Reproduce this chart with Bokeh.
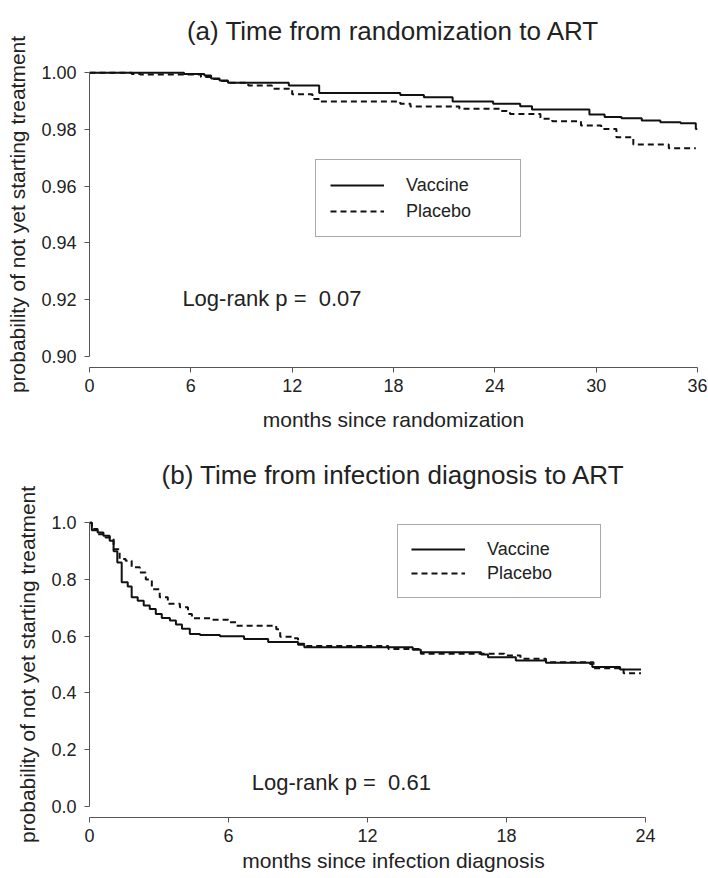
from bokeh.plotting import figure
from bokeh.layouts import column
from bokeh.models import Legend, LegendItem, Label, FixedTicker, Range1d
from bokeh.embed import file_html
from bokeh.resources import INLINE

FONT = "Liberation Sans"
TXT = "#222222"
AX = "#555555"

# ---------------- data: panel (a) ----------------
a_title = "(a) Time from randomization to ART"
a_xlabel = "months since randomization"
a_xticks = [0, 6, 12, 18, 24, 30, 36]
a_yticks = [0.90, 0.92, 0.94, 0.96, 0.98, 1.00]
a_ylabels = ["0.90", "0.92", "0.94", "0.96", "0.98", "1.00"]
a_vac_t = [0, 5.6, 6.8, 7.2, 7.7, 8.2, 11.8, 13.6, 18.4, 19.8, 21.5, 23.9, 25.5,
           26.2, 29.6, 30.5, 31.5, 32.7, 33.8, 35.0, 35.9, 36.0]
a_vac_s = [1.0, 0.9996, 0.9991, 0.9980, 0.9973, 0.9965, 0.9955, 0.9929, 0.9922,
           0.9914, 0.9899, 0.9891, 0.9882, 0.9871, 0.9853, 0.9844, 0.9840, 0.9832,
           0.9826, 0.9822, 0.9802, 0.9802]
a_pla_t = [0, 2.5, 3.0, 6.6, 7.2, 7.7, 8.2, 9.4, 10.8, 12.0, 13.2, 13.7, 18.4, 19.0,
           21.9, 24.3, 24.9, 26.7, 27.4, 29.1, 30.3, 31.2, 32.2, 34.3, 35.9]
a_pla_s = [1.0, 0.9996, 0.9994, 0.9985, 0.9978, 0.9971, 0.9965, 0.9955, 0.9944,
           0.9924, 0.9908, 0.9899, 0.9891, 0.9881, 0.9873, 0.9865, 0.9855, 0.9838,
           0.9829, 0.9814, 0.9802, 0.9773, 0.9747, 0.9734, 0.9734]
a_pval = "Log-rank p =\u00a0 0.07"
a_pval_pos = (5.5, 0.9204)

# ---------------- data: panel (b) ----------------
b_title = "(b) Time from infection diagnosis to ART"
b_xlabel = "months since infection diagnosis"
b_xticks = [0, 6, 12, 18, 24]
b_yticks = [0.0, 0.2, 0.4, 0.6, 0.8, 1.0]
b_ylabels = ["0.0", "0.2", "0.4", "0.6", "0.8", "1.0"]
b_vac_t = [0, 0.1, 0.35, 0.6, 0.87, 1.04, 1.2, 1.39, 1.65, 1.82, 2.08, 2.34, 2.6,
           2.86, 3.12, 3.47, 3.73, 3.99, 4.33, 4.77, 5.63, 6.67, 7.71, 9.0, 9.27,
           13.95, 14.3, 16.9, 17.2, 18.4, 19.7, 21.6, 21.7, 22.9, 23.8]
b_vac_s = [1.0, 0.974, 0.966, 0.954, 0.937, 0.90, 0.86, 0.79, 0.775, 0.737, 0.725,
           0.708, 0.696, 0.678, 0.664, 0.655, 0.641, 0.626, 0.608, 0.604, 0.600,
           0.590, 0.579, 0.570, 0.561, 0.552, 0.543, 0.535, 0.526, 0.514, 0.506,
           0.502, 0.491, 0.482, 0.482]
b_pla_t = [0, 0.1, 0.35, 0.69, 1.04, 1.3, 1.56, 1.82, 2.17, 2.43, 2.69, 3.03, 3.38,
           3.9, 4.25, 4.42, 5.29, 5.98, 6.33, 8.06, 8.23, 8.75, 9.0, 9.27, 12.9,
           14.3, 17.9, 18.6, 19.7, 21.75, 23.05, 23.8]
b_pla_s = [1.0, 0.978, 0.96, 0.948, 0.907, 0.872, 0.866, 0.843, 0.825, 0.80, 0.766,
           0.737, 0.714, 0.702, 0.678, 0.663, 0.658, 0.649, 0.637, 0.624, 0.598,
           0.593, 0.573, 0.565, 0.555, 0.538, 0.532, 0.52, 0.508, 0.487, 0.469, 0.469]
b_pval = "Log-rank p =\u00a0 0.61"
b_pval_pos = (7.0, 0.085)

series_names = ["Vaccine", "Placebo"]


def make_panel(title, xlabel, xticks, yticks, ylabels, xr, yr, xbounds, ybounds,
               vac, pla, pval, pval_pos, height, top, bottom, legend_loc,
               legend_pad, legend_spacing, title_standoff, xlab_standoff):
    p = figure(width=708, height=height, output_backend="svg", toolbar_location=None,
               x_range=Range1d(*xr), y_range=Range1d(*yr),
               min_border_left=89, min_border_right=11,
               min_border_top=top, min_border_bottom=bottom)
    p.title.text = title
    p.title.align = "center"
    p.title.vertical_align = "top"
    p.title.text_font = FONT
    p.title.text_font_size = "26px"
    p.title.text_font_style = "normal"
    p.title.text_color = TXT
    p.title.standoff = title_standoff
    p.outline_line_color = None
    p.grid.visible = False
    p.background_fill_color = "white"
    p.border_fill_color = "white"

    for ax in (p.xaxis[0], p.yaxis[0]):
        ax.axis_line_color = AX
        ax.major_tick_line_color = AX
        ax.minor_tick_line_color = None
        ax.major_tick_out = 5
        ax.major_tick_in = 0
        ax.major_label_text_font = FONT
        ax.major_label_text_font_size = "18px"
        ax.major_label_text_color = TXT
        ax.axis_label_text_font = FONT
        ax.axis_label_text_font_size = "21px"
        ax.axis_label_text_font_style = "normal"
        ax.axis_label_text_color = TXT
    p.xaxis.ticker = FixedTicker(ticks=xticks)
    p.xaxis.bounds = xbounds
    p.xaxis.axis_label = xlabel
    p.xaxis.major_label_standoff = 6
    p.xaxis.axis_label_standoff = xlab_standoff
    p.yaxis.ticker = FixedTicker(ticks=yticks)
    p.yaxis.major_label_overrides = {t: l for t, l in zip(yticks, ylabels)}
    p.yaxis.bounds = ybounds
    p.yaxis.axis_label = "probability of not yet starting treatment"
    p.yaxis.major_label_standoff = 8
    p.yaxis.axis_label_standoff = 9

    r1 = p.step(vac[0], vac[1], mode="after", line_color="#111111", line_width=2)
    r2 = p.step(pla[0], pla[1], mode="after", line_color="#111111", line_width=2,
                line_dash="6 4")

    legend = Legend(items=[LegendItem(label=series_names[0], renderers=[r1]),
                           LegendItem(label=series_names[1], renderers=[r2])],
                    location=legend_loc, orientation="vertical",
                    border_line_color=AX, border_line_width=1,
                    background_fill_color="white", background_fill_alpha=1,
                    padding=legend_pad, spacing=legend_spacing, margin=0,
                    glyph_width=54, glyph_height=20, label_height=22,
                    label_width=100, label_standoff=22,
                    label_text_font=FONT, label_text_font_size="18px",
                    label_text_color=TXT)
    p.add_layout(legend, "center")

    lab = Label(x=pval_pos[0], y=pval_pos[1], text=pval, text_font=FONT,
                text_font_size="22px", text_color=TXT, text_baseline="middle",
                text_align="left")
    p.add_layout(lab)
    return p


pa = make_panel(a_title, a_xlabel, a_xticks, a_yticks, a_ylabels,
                (0, 36), (0.896, 1.004), (0, 36), (0.90, 1.00),
                (a_vac_t, a_vac_s), (a_pla_t, a_pla_s), a_pval, a_pval_pos,
                440, 61, 73, (226, 130), 14, 4, 28, 13)
pb = make_panel(b_title, b_xlabel, b_xticks, b_yticks, b_ylabels,
                (0, 26.24), (-0.04, 1.04), (0, 24), (0.0, 1.0),
                (b_vac_t, b_vac_s), (b_pla_t, b_pla_s), b_pval, b_pval_pos,
                438, 71, 61, (308, 219), 13, 2, 39, 4)

layout = column(pa, pb, spacing=0)
open("out.html", "w").write(file_html(layout, INLINE))
